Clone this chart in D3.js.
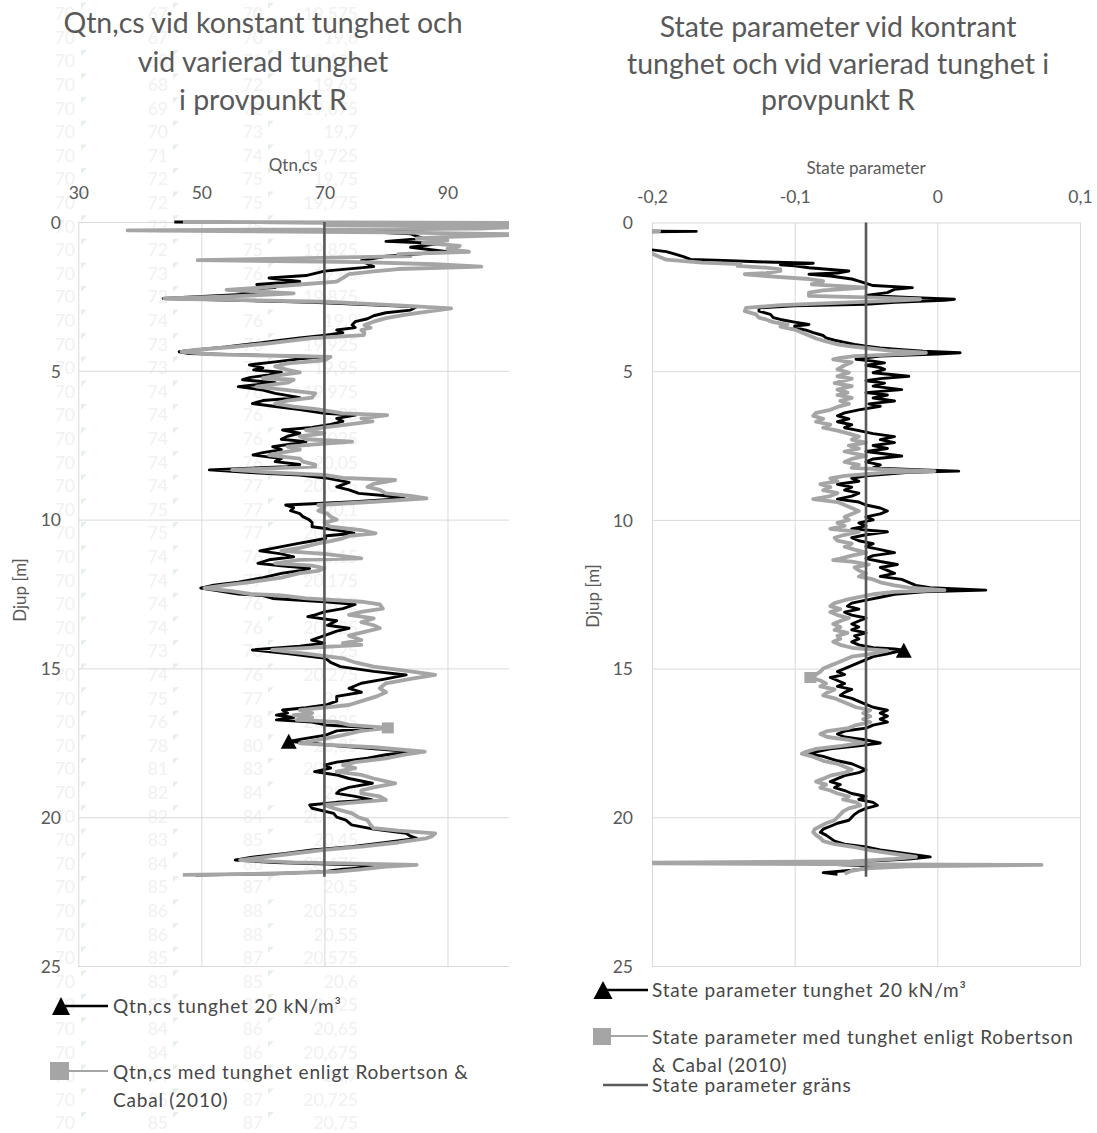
<!DOCTYPE html>
<html>
<head>
<meta charset="utf-8">
<script src="https://cdn.jsdelivr.net/npm/d3@7"></script>
<style>
  body { margin: 0; background: #ffffff; }
  svg { display: block; }
  text { font-family: Lato, "Open Sans", sans-serif; }
</style>
</head>
<body>
<svg id="chart" width="1097" height="1133"></svg>
<script>
// ---------- values ----------
const depthTicks = [0, 5, 10, 15, 20, 25];
const qtnTicks = [30, 50, 70, 90];
const stateTicks = [-0.2, -0.1, 0, 0.1];
const qtnLimit = 70;
const stateLimit = -0.05;
const limitDepths = [0, 22];

// Qtn,cs with constant unit weight 20 kN/m3  [depth m, Qtn,cs]
const qtnConstant = [
[0.00,45.6],[0.03,70],[0.07,99],[0.12,90],[0.20,95],[0.28,72],[0.40,84],[0.55,86],[0.65,80],[0.72,89],[0.85,84],[1.00,90],[1.15,80],[1.30,76],[1.50,78],[1.65,70],[1.80,67],[1.88,61],[2.00,66],[2.10,59],[2.20,62],[2.28,54.5],[2.40,60],[2.57,43.8],[2.70,68],[2.85,85],[2.96,84],[3.05,80],[3.15,78],[3.25,77],[3.35,75],[3.46,74.5],[3.55,75],[3.63,72],[3.72,73],[3.80,70.2],[3.90,66],[4.00,62],[4.10,58],[4.20,54],[4.30,49],[4.36,46.4],[4.42,48],[4.48,60],[4.53,70],[4.60,66],[4.70,62],[4.80,57.8],[4.90,60],[4.97,58.5],[5.05,63],[5.14,61],[5.22,58],[5.30,56.7],[5.40,62],[5.53,56],[5.65,60],[5.76,62],[5.90,66],[6.00,60],[6.10,58.3],[6.20,62],[6.30,66],[6.43,70],[6.49,75],[6.60,72],[6.70,73],[6.80,71],[6.90,68],[6.99,63.2],[7.10,66],[7.20,64],[7.30,63],[7.38,67],[7.45,65],[7.55,61.6],[7.65,63],[7.75,60],[7.83,58.4],[7.95,63],[8.05,62],[8.15,66],[8.22,64],[8.33,51.3],[8.42,58],[8.50,66],[8.60,70.2],[8.75,74],[8.90,72],[9.00,74],[9.12,75.6],[9.20,80],[9.29,83],[9.40,75],[9.51,63.7],[9.60,65],[9.70,64.5],[9.80,66],[9.90,66.5],[10.00,67.5],[10.10,68],[10.24,68],[10.35,72],[10.46,74.8],[10.55,70],[10.63,70.2],[10.72,68],[10.80,65.8],[10.95,62],[11.05,59.5],[11.15,63],[11.25,65],[11.35,61],[11.47,59.2],[11.55,63],[11.64,67.6],[11.72,66],[11.80,63.2],[11.95,60],[12.10,56],[12.20,52],[12.30,49.9],[12.40,53],[12.50,56],[12.55,60],[12.65,61.6],[12.76,70],[12.85,75],[12.99,73],[13.10,70],[13.20,68.5],[13.26,67.3],[13.40,72],[13.55,70.5],[13.65,74],[13.75,72],[13.90,70],[14.05,67.9],[14.15,70],[14.25,66],[14.38,58.3],[14.50,64],[14.66,70.2],[14.80,71],[14.94,72.6],[15.10,78],[15.22,83.3],[15.35,80],[15.50,76],[15.67,74],[15.80,76],[15.94,72],[16.10,72],[16.23,70.2],[16.32,67],[16.40,63.2],[16.50,64],[16.57,62.2],[16.65,65],[16.73,62.2],[16.80,68],[16.90,70.2],[17.00,77.8],[17.10,72],[17.24,70.2],[17.35,67],[17.45,64.2],[17.60,72],[17.80,84.4],[17.90,80],[18.02,77],[18.15,72],[18.25,70],[18.35,71],[18.47,68.4],[18.58,72],[18.70,74],[18.86,77.8],[19.00,74],[19.10,72.5],[19.20,72],[19.30,75],[19.42,77.8],[19.50,72],[19.59,67.6],[19.70,68],[19.87,71.5],[20.00,72],[20.10,73.5],[20.26,74.4],[20.40,78],[20.54,83.3],[20.64,84],[20.71,85],[20.85,80],[20.99,74.4],[21.10,68],[21.22,63.7],[21.35,58],[21.44,55.5],[21.52,62],[21.60,75],[21.68,78],[21.75,73],[21.83,70],[21.90,62],[21.94,49]
];

// Qtn,cs with unit weight after Robertson & Cabal (2010)  [depth m, Qtn,cs]
const qtnRobertson = [
[0.00,47],[0.03,100],[0.06,104],[0.10,70],[0.15,104],[0.22,95],[0.28,38],[0.35,80],[0.42,104],[0.50,90],[0.55,85],[0.62,90],[0.70,86],[0.80,92],[0.90,90],[1.00,93.5],[1.08,82],[1.15,84],[1.28,49.4],[1.35,76],[1.42,88],[1.50,95.5],[1.58,82],[1.66,78],[1.75,74],[1.88,73],[2.00,72],[2.10,66],[2.20,60],[2.28,54.1],[2.40,65],[2.50,55],[2.57,44],[2.68,70],[2.80,82],[2.90,90.6],[3.00,87],[3.12,83],[3.23,80],[3.35,78],[3.46,76.5],[3.55,77.5],[3.63,76],[3.72,76.5],[3.80,76.4],[3.90,68],[4.00,64],[4.10,60],[4.20,55],[4.30,49],[4.36,46.8],[4.45,52],[4.53,71],[4.65,70],[4.75,64],[4.85,62],[4.97,64],[5.05,66],[5.14,63],[5.25,60],[5.30,65],[5.40,64],[5.53,59],[5.65,64],[5.76,68.5],[5.90,68],[6.00,64],[6.10,62],[6.20,65],[6.30,69],[6.43,73],[6.49,80.2],[6.60,76],[6.70,77.8],[6.80,74],[6.90,70],[6.99,67],[7.10,70],[7.20,66],[7.30,67],[7.38,74.5],[7.45,70],[7.55,64],[7.65,66],[7.75,63],[7.83,61],[7.95,66],[8.05,66.5],[8.15,68.5],[8.22,68.5],[8.33,55],[8.42,62],[8.50,70],[8.60,73],[8.67,81.5],[8.80,78],[8.90,77],[9.00,79],[9.12,80],[9.20,84],[9.29,86.6],[9.40,78],[9.51,69],[9.60,70],[9.70,69],[9.80,70.5],[9.90,71],[10.00,72],[10.10,70],[10.24,71],[10.35,76],[10.46,78.3],[10.55,74],[10.63,73],[10.72,71],[10.80,69],[10.95,66],[11.05,63],[11.15,70],[11.30,76],[11.35,66],[11.47,62],[11.55,68],[11.64,70],[11.72,69],[11.80,66],[11.95,63],[12.10,58],[12.20,54],[12.30,50.5],[12.40,55],[12.50,58],[12.55,63],[12.65,67],[12.76,76],[12.85,79],[12.99,79.5],[13.10,76],[13.20,74],[13.32,78],[13.45,76],[13.55,78],[13.65,79],[13.75,77],[13.90,74],[14.05,76],[14.15,73],[14.21,76],[14.30,68],[14.38,61.5],[14.50,67],[14.66,73],[14.80,75],[14.94,78],[15.10,84],[15.22,88],[15.35,84],[15.50,80],[15.67,79],[15.80,80],[15.94,78.5],[16.10,76],[16.23,74],[16.32,70],[16.40,66],[16.50,68],[16.57,65],[16.65,68],[16.73,65.5],[16.80,72],[16.90,74],[17.00,80.3],[17.10,76],[17.24,73],[17.40,69],[17.52,66],[17.65,78],[17.80,86.3],[17.90,83],[18.02,80],[18.15,75],[18.25,73],[18.35,75],[18.47,72],[18.58,76],[18.70,78],[18.86,81.5],[19.00,78],[19.10,76],[19.20,76],[19.30,79],[19.42,80],[19.50,75],[19.59,70],[19.70,71.5],[19.87,74.5],[20.00,75.5],[20.10,77],[20.26,77.5],[20.37,78],[20.45,82],[20.54,88],[20.64,87.5],[20.71,86.5],[20.85,82],[20.99,76],[21.10,70],[21.22,65],[21.35,60],[21.44,56.3],[21.52,65],[21.60,85],[21.66,80],[21.75,76],[21.83,72],[21.90,60],[21.94,47]
];

// State parameter with constant unit weight 20 kN/m3  [depth m, psi]
const stateConstant = [
[0.00,-0.30],[0.28,-0.25],[0.30,-0.169],[0.33,-0.25],[0.85,-0.25],[0.92,-0.20],[0.98,-0.19],[1.05,-0.185],[1.15,-0.178],[1.24,-0.173],[1.28,-0.15],[1.33,-0.12],[1.37,-0.087],[1.42,-0.11],[1.46,-0.10],[1.52,-0.09],[1.58,-0.075],[1.63,-0.062],[1.70,-0.07],[1.74,-0.09],[1.80,-0.075],[1.90,-0.06],[1.97,-0.055],[2.05,-0.05],[2.12,-0.045],[2.19,-0.0175],[2.25,-0.03],[2.36,-0.035],[2.45,-0.05],[2.52,-0.02],[2.58,0.012],[2.62,0.005],[2.68,-0.03],[2.75,-0.05],[2.80,-0.10],[2.87,-0.125],[2.98,-0.125],[3.09,-0.117],[3.20,-0.115],[3.26,-0.11],[3.35,-0.10],[3.43,-0.09],[3.48,-0.10],[3.54,-0.10],[3.62,-0.092],[3.70,-0.087],[3.80,-0.08],[3.88,-0.078],[3.96,-0.072],[4.04,-0.064],[4.10,-0.058],[4.16,-0.05],[4.22,-0.04],[4.27,-0.027],[4.33,-0.01],[4.38,0.016],[4.42,0.0],[4.49,-0.04],[4.55,-0.05],[4.60,-0.057],[4.66,-0.045],[4.72,-0.037],[4.80,-0.05],[4.88,-0.04],[4.94,-0.037],[5.05,-0.045],[5.17,-0.02],[5.25,-0.04],[5.32,-0.05],[5.40,-0.037],[5.50,-0.045],[5.62,-0.025],[5.72,-0.05],[5.80,-0.035],[5.90,-0.045],[6.00,-0.03],[6.10,-0.048],[6.18,-0.04],[6.30,-0.055],[6.40,-0.065],[6.50,-0.07],[6.60,-0.062],[6.70,-0.07],[6.80,-0.06],[6.90,-0.065],[7.00,-0.055],[7.10,-0.045],[7.20,-0.03],[7.30,-0.04],[7.40,-0.03],[7.50,-0.045],[7.60,-0.035],[7.70,-0.05],[7.85,-0.025],[7.95,-0.045],[8.05,-0.05],[8.15,-0.04],[8.25,-0.045],[8.32,-0.01],[8.36,0.015],[8.40,-0.02],[8.52,-0.05],[8.60,-0.06],[8.70,-0.055],[8.80,-0.07],[8.90,-0.06],[9.00,-0.065],[9.10,-0.055],[9.20,-0.06],[9.30,-0.07],[9.40,-0.055],[9.50,-0.05],[9.60,-0.04],[9.70,-0.035],[9.80,-0.04],[9.90,-0.05],[10.00,-0.045],[10.10,-0.055],[10.20,-0.05],[10.30,-0.06],[10.40,-0.035],[10.50,-0.05],[10.60,-0.06],[10.70,-0.055],[10.80,-0.045],[10.90,-0.05],[11.00,-0.04],[11.10,-0.03],[11.20,-0.045],[11.30,-0.05],[11.40,-0.04],[11.50,-0.028],[11.60,-0.04],[11.70,-0.035],[11.80,-0.03],[11.90,-0.04],[12.00,-0.025],[12.10,-0.02],[12.20,-0.015],[12.28,-0.005],[12.36,0.034],[12.42,-0.01],[12.50,-0.03],[12.60,-0.04],[12.70,-0.05],[12.80,-0.06],[12.90,-0.063],[13.00,-0.055],[13.10,-0.065],[13.20,-0.06],[13.30,-0.05],[13.40,-0.055],[13.50,-0.06],[13.60,-0.055],[13.70,-0.06],[13.80,-0.05],[13.90,-0.058],[14.00,-0.055],[14.10,-0.06],[14.20,-0.055],[14.30,-0.045],[14.34,-0.03],[14.38,-0.0235],[14.50,-0.035],[14.60,-0.045],[14.70,-0.05],[14.80,-0.055],[14.90,-0.06],[15.00,-0.065],[15.10,-0.07],[15.20,-0.065],[15.30,-0.075],[15.40,-0.07],[15.50,-0.065],[15.60,-0.07],[15.70,-0.06],[15.80,-0.065],[15.90,-0.068],[16.00,-0.06],[16.10,-0.055],[16.20,-0.05],[16.30,-0.045],[16.40,-0.035],[16.50,-0.04],[16.60,-0.035],[16.70,-0.04],[16.80,-0.035],[16.90,-0.045],[17.00,-0.05],[17.10,-0.065],[17.20,-0.07],[17.30,-0.065],[17.40,-0.05],[17.50,-0.04],[17.60,-0.055],[17.70,-0.075],[17.80,-0.085],[17.86,-0.09],[17.95,-0.08],[18.10,-0.07],[18.20,-0.06],[18.30,-0.055],[18.40,-0.05],[18.50,-0.055],[18.60,-0.065],[18.70,-0.07],[18.80,-0.075],[18.90,-0.068],[19.00,-0.072],[19.10,-0.065],[19.20,-0.06],[19.30,-0.05],[19.40,-0.055],[19.50,-0.045],[19.60,-0.042],[19.70,-0.05],[19.80,-0.055],[19.90,-0.058],[20.00,-0.06],[20.10,-0.062],[20.20,-0.07],[20.30,-0.075],[20.40,-0.08],[20.50,-0.082],[20.60,-0.078],[20.70,-0.075],[20.80,-0.072],[20.90,-0.065],[21.00,-0.05],[21.10,-0.04],[21.20,-0.025],[21.33,-0.005],[21.40,-0.02],[21.48,-0.05],[21.52,-0.106],[21.56,-0.087],[21.62,-0.05],[21.70,-0.045],[21.78,-0.06],[21.86,-0.08],[21.92,-0.07]
];

// State parameter with unit weight after Robertson & Cabal (2010)  [depth m, psi]
const stateRobertson = [
[0.00,-0.30],[0.28,-0.25],[0.29,-0.195],[0.31,-0.25],[0.85,-0.25],[1.05,-0.20],[1.15,-0.195],[1.25,-0.19],[1.35,-0.165],[1.40,-0.138],[1.46,-0.14],[1.52,-0.12],[1.58,-0.11],[1.63,-0.11],[1.70,-0.12],[1.74,-0.135],[1.80,-0.12],[1.90,-0.09],[1.97,-0.08],[2.08,-0.088],[2.19,-0.05],[2.28,-0.08],[2.36,-0.09],[2.47,-0.09],[2.52,-0.05],[2.58,-0.012],[2.63,-0.03],[2.70,-0.07],[2.78,-0.11],[2.87,-0.134],[2.98,-0.135],[3.09,-0.127],[3.20,-0.125],[3.26,-0.12],[3.35,-0.115],[3.43,-0.105],[3.50,-0.11],[3.60,-0.10],[3.70,-0.095],[3.80,-0.09],[3.90,-0.085],[4.00,-0.078],[4.10,-0.07],[4.16,-0.062],[4.22,-0.05],[4.30,-0.035],[4.38,-0.008],[4.42,-0.02],[4.49,-0.058],[4.55,-0.068],[4.60,-0.073],[4.70,-0.06],[4.80,-0.065],[4.94,-0.07],[5.05,-0.062],[5.17,-0.07],[5.25,-0.06],[5.40,-0.072],[5.50,-0.06],[5.62,-0.07],[5.72,-0.063],[5.80,-0.07],[5.90,-0.06],[6.00,-0.068],[6.10,-0.062],[6.20,-0.07],[6.30,-0.075],[6.40,-0.085],[6.50,-0.087],[6.60,-0.08],[6.70,-0.085],[6.80,-0.075],[6.90,-0.08],[7.00,-0.07],[7.10,-0.062],[7.20,-0.055],[7.30,-0.06],[7.40,-0.05],[7.50,-0.062],[7.60,-0.055],[7.70,-0.065],[7.85,-0.05],[7.95,-0.06],[8.05,-0.065],[8.15,-0.055],[8.25,-0.06],[8.32,-0.03],[8.36,-0.002],[8.40,-0.035],[8.52,-0.065],[8.60,-0.075],[8.70,-0.07],[8.80,-0.082],[8.90,-0.075],[9.00,-0.08],[9.10,-0.07],[9.20,-0.075],[9.30,-0.087],[9.40,-0.07],[9.50,-0.065],[9.60,-0.06],[9.70,-0.055],[9.80,-0.06],[9.90,-0.065],[10.00,-0.062],[10.10,-0.07],[10.20,-0.065],[10.30,-0.075],[10.40,-0.055],[10.50,-0.065],[10.60,-0.072],[10.70,-0.07],[10.80,-0.06],[10.90,-0.065],[11.00,-0.058],[11.10,-0.05],[11.20,-0.06],[11.30,-0.068],[11.35,-0.073],[11.40,-0.06],[11.50,-0.048],[11.60,-0.058],[11.70,-0.055],[11.80,-0.05],[11.90,-0.055],[12.00,-0.045],[12.10,-0.04],[12.20,-0.03],[12.28,-0.02],[12.36,0.005],[12.42,-0.03],[12.50,-0.045],[12.60,-0.055],[12.70,-0.065],[12.80,-0.072],[12.90,-0.075],[13.00,-0.068],[13.10,-0.075],[13.20,-0.07],[13.30,-0.062],[13.40,-0.068],[13.50,-0.073],[13.60,-0.068],[13.70,-0.072],[13.80,-0.063],[13.90,-0.07],[14.00,-0.068],[14.10,-0.073],[14.20,-0.068],[14.30,-0.06],[14.36,-0.045],[14.40,-0.035],[14.50,-0.045],[14.60,-0.06],[14.70,-0.065],[14.80,-0.07],[14.90,-0.075],[15.00,-0.08],[15.10,-0.082],[15.20,-0.085],[15.30,-0.089],[15.40,-0.082],[15.50,-0.078],[15.60,-0.082],[15.70,-0.072],[15.80,-0.077],[15.90,-0.08],[16.00,-0.072],[16.10,-0.067],[16.20,-0.062],[16.30,-0.057],[16.40,-0.047],[16.50,-0.052],[16.60,-0.047],[16.70,-0.052],[16.80,-0.047],[16.90,-0.057],[17.00,-0.062],[17.10,-0.077],[17.20,-0.082],[17.30,-0.077],[17.40,-0.062],[17.50,-0.052],[17.60,-0.067],[17.70,-0.085],[17.80,-0.092],[17.86,-0.095],[17.95,-0.088],[18.10,-0.08],[18.20,-0.07],[18.30,-0.065],[18.40,-0.06],[18.50,-0.065],[18.60,-0.075],[18.70,-0.08],[18.80,-0.085],[18.90,-0.078],[19.00,-0.082],[19.10,-0.075],[19.20,-0.07],[19.30,-0.062],[19.40,-0.066],[19.50,-0.057],[19.60,-0.054],[19.70,-0.062],[19.80,-0.066],[19.90,-0.068],[20.00,-0.07],[20.10,-0.072],[20.20,-0.078],[20.30,-0.082],[20.40,-0.086],[20.50,-0.087],[20.60,-0.085],[20.70,-0.082],[20.80,-0.08],[20.90,-0.072],[21.00,-0.058],[21.10,-0.048],[21.20,-0.035],[21.33,-0.015],[21.40,-0.03],[21.48,-0.06],[21.54,-0.25],[21.60,0.073],[21.65,-0.02],[21.72,-0.05],[21.80,-0.06],[21.90,-0.065]
];

// single markers shown on each series  [depth m, value]
const qtnConstantMarker = [17.45, 64.2];
const qtnRobertsonMarker = [17.00, 80.3];
const stateConstantMarker = [14.38, -0.0235];
const stateRobertsonMarker = [15.30, -0.089];

// worksheet cells lying behind the left chart
const sheetColA = ["70","70","70","70","70","70","70","70","70","70","70","70","70","70","70","70","70","70","70","70","70","70","70","70","70","70","70","70","70","70","70","70","70","70","70","70","70","70","70","70","70","70","70","70","70","70","70","70"];
const sheetColB = ["67","67","68","68","69","70","71","72","72","72","72","73","72","74","73","73","74","74","74","74","74","75","75","74","74","74","74","73","74","75","76","78","81","82","82","83","84","85","86","86","85","83","83","84","84","84","85","85"];
const sheetColC = ["70","70","71","72","72","73","74","75","75","75","75","76","76","76","76","76","76","76","76","76","77","77","77","76","77","76","76","76","76","77","78","80","83","84","84","85","86","87","88","88","87","85","85","86","86","86","87","87"];
const sheetColD = ["19,575","19,6","19,625","19,65","19,675","19,7","19,725","19,75","19,775","19,8","19,825","19,85","19,875","19,9","19,925","19,95","19,975","20","20,025","20,05","20,075","20,1","20,125","20,15","20,175","20,2","20,225","20,25","20,275","20,3","20,325","20,35","20,375","20,4","20,425","20,45","20,475","20,5","20,525","20,55","20,575","20,6","20,625","20,65","20,675","20,7","20,725","20,75"];

// ---------- drawing ----------
const svg = d3.select("#chart");
const TEXT = "#595959";
const GRID = "#d9d9d9";
const BLACK = "#000000";
const GREY = "#a5a5a5";
const LIMIT = "#595959";

const sv = d3.formatLocale({decimal: ",", thousands: " ", grouping: [3], currency: ["", " kr"], minus: "-"});

// faint spreadsheet cells
const sheet = svg.append("g").attr("class", "sheet");
const rowY = i => 13.8 + 23.6 * i;
const sheetCols = [
  {vals: sheetColA, right: 75, flag: null},
  {vals: sheetColB, right: 168, flag: 81},
  {vals: sheetColC, right: 263, flag: 173},
  {vals: sheetColD, right: 358, flag: 268}
];
sheetCols.forEach(col => {
  sheet.selectAll(null).data(col.vals).join("text")
    .attr("x", col.right).attr("y", (d, i) => rowY(i))
    .attr("dy", "0.36em").attr("text-anchor", "end")
    .attr("font-size", 17.5).attr("fill", "#f1f1f1").text(d => d);
  if (col.flag !== null) {
    sheet.selectAll(null).data(col.vals).join("path")
      .attr("d", (d, i) => {
        const t = rowY(i) - 11;
        return `M${col.flag},${t}L${col.flag + 6},${t}L${col.flag},${t + 6}Z`;
      })
      .attr("fill", "#e6f0e6");
  }
});

function trianglePath(cx, cy, w, h) {
  return `M${cx},${cy - h / 2}L${cx + w / 2},${cy + h / 2}L${cx - w / 2},${cy + h / 2}Z`;
}

function drawPanel(p) {
  const x = d3.scaleLinear().domain(p.xDomain).range([p.left, p.right]);
  const y = d3.scaleLinear().domain([0, 25]).range([p.top, p.bottom]);
  const g = svg.append("g");

  // grid
  const gx = g.append("g").attr("transform", `translate(0,${p.top})`)
    .call(d3.axisTop(x).tickValues(p.xTicks).tickSize(-(p.bottom - p.top)).tickFormat(""));
  gx.select(".domain").remove();
  gx.selectAll("line").attr("stroke", GRID).attr("stroke-width", 1);

  const gy = g.append("g").attr("transform", `translate(${p.left},0)`)
    .call(d3.axisLeft(y).tickValues(depthTicks).tickSize(-(p.right - p.left)).tickFormat(""));
  gy.select(".domain").remove();
  gy.selectAll("line").attr("stroke", GRID).attr("stroke-width", 1);

  // tick labels
  const lx = g.append("g").attr("transform", `translate(0,${p.xLabelY})`)
    .call(d3.axisTop(x).tickValues(p.xTicks).tickSize(0).tickPadding(0).tickFormat(p.fmt));
  lx.select(".domain").remove();
  lx.selectAll("text").attr("dy", "0.36em").attr("font-size", 17.5)
    .attr("fill", TEXT).attr("font-family", "Lato, sans-serif");

  const ly = g.append("g").attr("transform", `translate(${p.yLabelX},0)`)
    .call(d3.axisLeft(y).tickValues(depthTicks).tickSize(0).tickPadding(0));
  ly.select(".domain").remove();
  ly.selectAll("text").attr("dy", "0.36em").attr("font-size", 17.5)
    .attr("fill", TEXT).attr("font-family", "Lato, sans-serif");

  // titles
  g.append("text").attr("x", p.axisTitleX).attr("y", p.axisTitleY).attr("dy", "0.36em")
    .attr("text-anchor", "middle").attr("font-size", 17).attr("fill", TEXT).text(p.axisTitle);
  g.append("text").attr("transform", `translate(${p.depthTitleX},${p.depthTitleY}) rotate(-90)`)
    .attr("dy", "0.36em").attr("text-anchor", "middle").attr("font-size", 17)
    .attr("fill", TEXT).text("Djup [m]");
  g.append("g").selectAll("text").data(p.title).join("text")
    .attr("x", p.titleX).attr("y", (d, i) => p.titleY[i]).attr("dy", "0.36em")
    .attr("text-anchor", "middle").attr("font-size", 28.5).attr("fill", TEXT).text(d => d);

  // series
  const clipId = p.id + "-clip";
  svg.append("defs").append("clipPath").attr("id", clipId).append("rect")
    .attr("x", p.left).attr("y", p.top - 3).attr("width", p.right - p.left).attr("height", p.bottom - p.top + 3);
  const plot = g.append("g").attr("clip-path", `url(#${clipId})`);
  const line = d3.line().x(d => x(d[1])).y(d => y(d[0]));

  plot.append("path").datum(p.constant).attr("d", line)
    .attr("fill", "none").attr("stroke", BLACK).attr("stroke-width", 2.9)
    .attr("stroke-linejoin", "round");
  plot.append("path").attr("d", trianglePath(x(p.constantMarker[1]), y(p.constantMarker[0]), 16, 15))
    .attr("fill", BLACK);

  plot.append("path").datum(p.robertson).attr("d", line)
    .attr("fill", "none").attr("stroke", GREY).attr("stroke-width", 3.8)
    .attr("stroke-linejoin", "round");
  plot.append("rect")
    .attr("x", x(p.robertsonMarker[1]) - 6).attr("y", y(p.robertsonMarker[0]) - 5.5)
    .attr("width", 12).attr("height", 11).attr("fill", GREY);

  plot.append("path").datum(limitDepths.map(dd => [dd, p.limit])).attr("d", line)
    .attr("fill", "none").attr("stroke", LIMIT).attr("stroke-width", 2.6);
}

drawPanel({
  id: "qtn",
  xDomain: [30, 100], left: 78.3, right: 509, top: 222, bottom: 966,
  xTicks: qtnTicks, fmt: d => sv.format("~g")(d),
  xLabelY: 193, yLabelX: 61,
  axisTitle: "Qtn,cs", axisTitleX: 293, axisTitleY: 165,
  depthTitleX: 20, depthTitleY: 590,
  title: ["Qtn,cs vid konstant tunghet och", "vid varierad tunghet", "i provpunkt R"],
  titleX: 263, titleY: [23, 61.5, 100],
  constant: qtnConstant, robertson: qtnRobertson,
  constantMarker: qtnConstantMarker, robertsonMarker: qtnRobertsonMarker,
  limit: qtnLimit
});

drawPanel({
  id: "state",
  xDomain: [-0.2, 0.1], left: 652, right: 1080, top: 222.5, bottom: 966,
  xTicks: stateTicks, fmt: d => sv.format(".1~f")(d),
  xLabelY: 197, yLabelX: 633,
  axisTitle: "State parameter", axisTitleX: 866, axisTitleY: 168,
  depthTitleX: 593, depthTitleY: 596,
  title: ["State parameter vid kontrant", "tunghet och vid varierad tunghet i", "provpunkt R"],
  titleX: 838, titleY: [26.5, 63.5, 100],
  constant: stateConstant, robertson: stateRobertson,
  constantMarker: stateConstantMarker, robertsonMarker: stateRobertsonMarker,
  limit: stateLimit
});

// ---------- legends ----------
const LEG = "#474747";
function legendText(g, x, ys, lines) {
  lines.forEach((t, i) => {
    g.append("text").attr("x", x).attr("y", ys[i]).attr("dy", "0.36em")
      .attr("font-size", 19).attr("letter-spacing", 0.8).attr("fill", LEG).text(t);
  });
}

const legL = svg.append("g");
legL.append("line").attr("x1", 58).attr("x2", 108).attr("y1", 1006).attr("y2", 1006)
  .attr("stroke", BLACK).attr("stroke-width", 2.6);
legL.append("path").attr("d", trianglePath(61, 1006, 18, 18)).attr("fill", BLACK);
legendText(legL, 113, [1006], ["Qtn,cs tunghet 20 kN/m³"]);
legL.append("line").attr("x1", 65).attr("x2", 108).attr("y1", 1071).attr("y2", 1071)
  .attr("stroke", GREY).attr("stroke-width", 2);
legL.append("rect").attr("x", 50).attr("y", 1062).attr("width", 19).attr("height", 18).attr("fill", GREY);
legendText(legL, 113, [1072, 1100], ["Qtn,cs med tunghet enligt Robertson &", "Cabal (2010)"]);

const legR = svg.append("g");
legR.append("line").attr("x1", 603).attr("x2", 648).attr("y1", 990).attr("y2", 990)
  .attr("stroke", BLACK).attr("stroke-width", 2.6);
legR.append("path").attr("d", trianglePath(603, 990, 19, 18)).attr("fill", BLACK);
legendText(legR, 652, [990], ["State parameter tunghet 20 kN/m³"]);
legR.append("line").attr("x1", 608).attr("x2", 648).attr("y1", 1036).attr("y2", 1036)
  .attr("stroke", GREY).attr("stroke-width", 2);
legR.append("rect").attr("x", 593).attr("y", 1028).attr("width", 18).attr("height", 17).attr("fill", GREY);
legendText(legR, 652, [1037, 1065], ["State parameter med tunghet enligt Robertson", "& Cabal (2010)"]);
legR.append("line").attr("x1", 603).attr("x2", 648).attr("y1", 1085).attr("y2", 1085)
  .attr("stroke", LIMIT).attr("stroke-width", 2.6);
legendText(legR, 652, [1085], ["State parameter gräns"]);
</script>
</body>
</html>
